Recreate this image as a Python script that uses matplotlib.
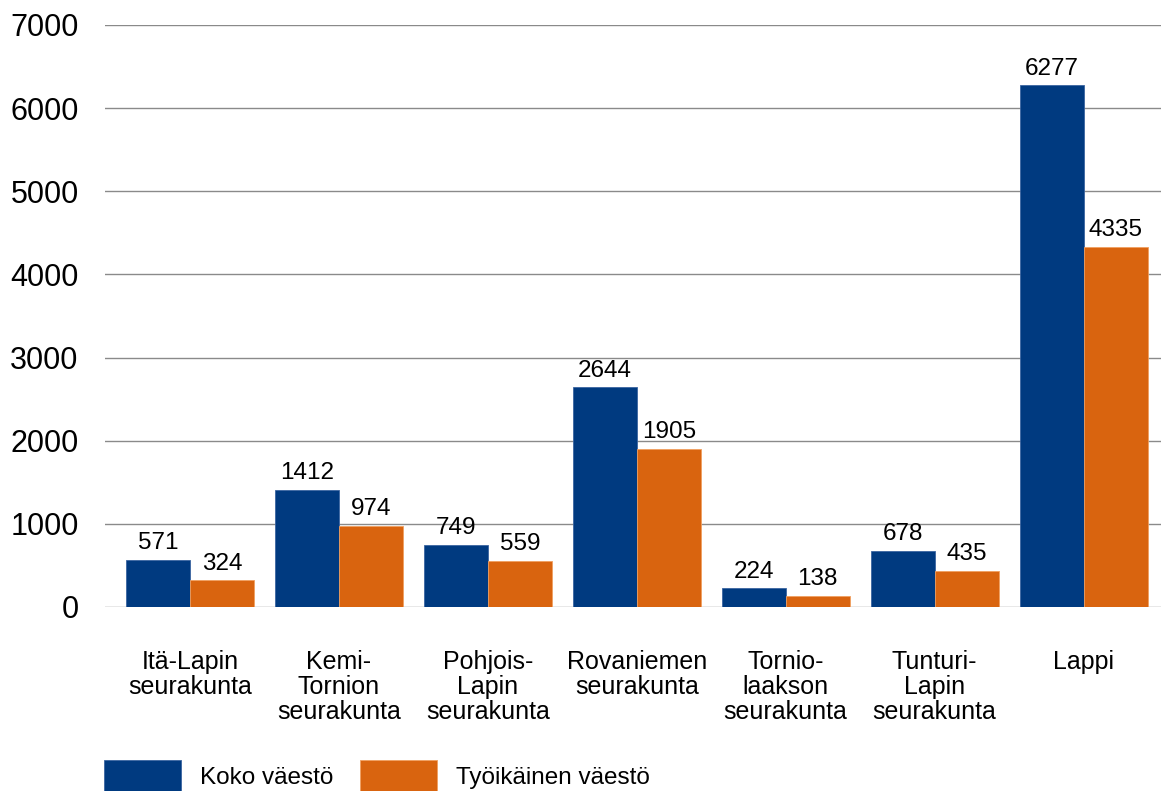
import matplotlib
matplotlib.use("Agg")
import matplotlib.pyplot as plt
import numpy as np

plt.rcParams['font.family'] = ['Liberation Sans', 'DejaVu Sans']

categories = [
    "Itä-Lapin\nseurakunta",
    "Kemi-\nTornion\nseurakunta",
    "Pohjois-\nLapin\nseurakunta",
    "Rovaniemen\nseurakunta",
    "Tornio-\nlaakson\nseurakunta",
    "Tunturi-\nLapin\nseurakunta",
    "Lappi",
]
koko_vaesto = [571, 1412, 749, 2644, 224, 678, 6277]
tyoikainen_vaesto = [324, 974, 559, 1905, 138, 435, 4335]
series_names = ["Koko väestö", "Työikäinen väestö"]
yticks = [0, 1000, 2000, 3000, 4000, 5000, 6000, 7000]

blue = "#003A80"
orange = "#D9640F"

fig = plt.figure(figsize=(11.61, 7.91), dpi=100)
ax = fig.add_axes([105 / 1161, 1 - 607 / 791, 1 - 105 / 1161, (607 - 25) / 791])

x = np.arange(len(categories))
w = 0.43
b1 = ax.bar(x - w / 2, koko_vaesto, width=w, color=blue, edgecolor="#3a64a0",
            linewidth=0.6, label=series_names[0], zorder=3)
b2 = ax.bar(x + w / 2, tyoikainen_vaesto, width=w, color=orange, edgecolor="#f0a060",
            linewidth=0.6, label=series_names[1], zorder=3)
ax.bar_label(b1, padding=4, fontsize=17.5)
ax.bar_label(b2, padding=4, fontsize=17.5)

ax.set_xlim(-0.57, 6.52)
ax.set_ylim(0, 7000)
ax.set_yticks(yticks)
ax.tick_params(axis="y", length=0, pad=19, labelsize=22)
ax.set_xticks(x)
ax.set_xticklabels(categories, fontsize=18, linespacing=1.05)
ax.tick_params(axis="x", length=0, pad=31)

ax.yaxis.grid(True, color="#8a8a8a", linewidth=1.0, zorder=0)
ax.set_axisbelow(True)
for s in ax.spines.values():
    s.set_visible(False)

fig.legend(handles=[b1, b2], labels=series_names, loc="upper left",
           bbox_to_anchor=(104 / 1161, 1 - 760 / 791), ncol=2, frameon=False,
           fontsize=17.5, borderpad=0, borderaxespad=0, handlelength=3.17,
           handleheight=1.7, handletextpad=0.78, columnspacing=1.1)

fig.savefig("out.png", dpi=100)
